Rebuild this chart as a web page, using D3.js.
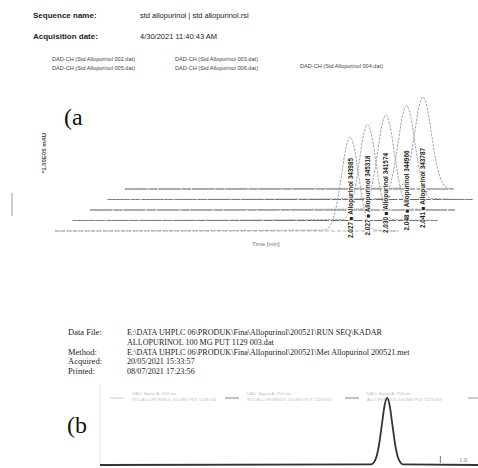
<!DOCTYPE html>
<html>
<head>
<meta charset="utf-8">
<script src="https://cdn.jsdelivr.net/npm/d3@7"></script>
<style>
body { margin: 0; background: #fff; }
svg { display: block; }
</style>
</head>
<body>
<div id="chart"></div>
<script>
// ---- values ----

// header of panel (a)
const headerLabels = ["Sequence name:", "Acquisition date:"];
const headerValues = ["std allopurinol | std allopurinol.rsl", "4/30/2021 11:40:43 AM"];
const legendFiles = [
    "DAD-CH (Std Allopurinol 002.dat)",
    "DAD-CH (Std Allopurinol 005.dat)",
    "DAD-CH (Std Allopurinol 003.dat)",
    "DAD-CH (Std Allopurinol 006.dat)",
    "DAD-CH (Std Allopurinol 004.dat)"
];

// overlay traces of panel (a), front to back
const peakTimes = [2.021, 2.021, 2.027, 2.048, 2.041];      // min
const peakHeights = [0.94, 0.96, 0.95, 0.94, 0.92];         // *1.00E05 mAU
const traceEnds = [2.35, 2.5, 2.5, 2.5, 2.25];              // min
const peakRT = ["2.027", "2.027", "2.030", "2.048", "2.041"];
const peakAreas = ["343985", "345318", "341574", "344966", "343787"];

// peak outline (offset in peak widths, fraction of height)
const shapeOffsets = [-3, -2.5, -2, -1.5, -1, -0.5, 0, 0.5, 1, 1.5, 2, 2.5, 3];
const shapeLevels = [0.01, 0.04, 0.13, 0.32, 0.6, 0.88, 1, 0.88, 0.6, 0.32, 0.13, 0.04, 0.01];

// info block of panel (b)
const infoLabels = ["Data File:", "", "Method:", "Acquired:", "Printed:"];
const infoValues = [
    "E:\\DATA UHPLC 06\\PRODUK\\Fina\\Allopurinol\\200521\\RUN SEQ\\KADAR",
    "ALLOPURINOL 100 MG PUT 1129 003.dat",
    "E:\\DATA UHPLC 06\\PRODUK\\Fina\\Allopurinol\\200521\\Met Allopurinol 200521.met",
    "20/05/2021 15:33:57",
    "08/07/2021 17:23:56"
];
const sampleLegendTop = ["DAD: Signal A, 254 nm", "DAD: Signal A, 254 nm", "DAD: Signal A, 254 nm"];
const sampleLegendBottom = ["STD ALLOPURINOL 100 MG PUT 1129 001", "STD ALLOPURINOL 100 MG PUT 1129 002", "ALLOPURINOL 100 MG PUT 1129 003"];

// sample chromatogram of panel (b)
const samplePeakTime = 0.793;   // min
const samplePeakHeight = 0.96;
const sampleTickTimes = [0.94];
const sampleTickLabels = ["1.0"];

// ---- drawing ----
const width = 478, height = 468;

const svg = d3.select("#chart").append("svg")
    .attr("width", width)
    .attr("height", height);

const sans = "Liberation Sans, Arial, sans-serif";
const serif = "Liberation Serif, Times New Roman, serif";

// header text
svg.selectAll(".head-label")
    .data(headerLabels)
    .join("text")
    .attr("class", "head-label")
    .attr("x", 33)
    .attr("y", (d, i) => 18 + i * 21)
    .attr("font-family", sans)
    .attr("font-size", 8)
    .attr("font-weight", "bold")
    .attr("fill", "#222")
    .text(d => d);

svg.selectAll(".head-value")
    .data(headerValues)
    .join("text")
    .attr("class", "head-value")
    .attr("x", 140)
    .attr("y", (d, i) => 18 + i * 21)
    .attr("font-family", sans)
    .attr("font-size", 7.5)
    .attr("fill", "#222")
    .text(d => d);

// legend of file names
const legendPos = [[52, 61], [52, 70], [175, 61], [175, 70], [300, 68]];
svg.selectAll(".file-legend")
    .data(legendFiles)
    .join("text")
    .attr("class", "file-legend")
    .attr("x", (d, i) => legendPos[i][0])
    .attr("y", (d, i) => legendPos[i][1])
    .attr("font-family", sans)
    .attr("font-size", 5.6)
    .attr("fill", "#444")
    .text(d => d);

// panel letters
svg.append("text")
    .attr("x", 64).attr("y", 125)
    .attr("font-family", serif)
    .attr("font-size", 24)
    .attr("fill", "#111")
    .text("(a");

svg.append("text")
    .attr("x", 67).attr("y", 433)
    .attr("font-family", serif)
    .attr("font-size", 24)
    .attr("fill", "#111")
    .text("(b");

// ---- panel (a): stacked overlay ----
const xA = d3.scaleLinear().domain([0, 2.5]).range([0, 365]);
const yA = d3.scaleLinear().domain([0, 1]).range([0, -100]);
const peakWidthA = 0.058; // min

const stepX = 17.5, stepY = -10.5, originX = 55, originY = 231;

const traces = peakTimes.map((t, i) => {
    const pts = [[0, 0]];
    shapeOffsets.forEach((o, k) => pts.push([t + o * peakWidthA, shapeLevels[k] * peakHeights[i]]));
    pts.push([traceEnds[i], 0]);
    return { i: i, pts: pts, end: traceEnds[i] };
});

const lineA = d3.line()
    .x(d => xA(d[0]))
    .y(d => yA(d[1]))
    .curve(d3.curveMonotoneX);

const traceGroups = svg.append("g")
    .attr("class", "traces")
    .selectAll("g")
    .data(traces.slice().reverse())
    .join("g")
    .attr("transform", d => `translate(${originX + stepX * d.i},${originY + stepY * d.i})`);

// baseline stroke (scan makes it mottled)
traceGroups.append("line")
    .attr("x1", xA(0))
    .attr("x2", d => xA(d.end))
    .attr("y1", yA(0))
    .attr("y2", yA(0))
    .attr("stroke", d => d.i === 0 ? "#b5b5b5" : "#6a6a6a")
    .attr("stroke-width", 1.1)
    .attr("stroke-dasharray", d => d.i === 0 ? "4,2" : "22,1.5,9,1");

// peak outline
traceGroups.append("path")
    .attr("d", d => lineA(d.pts))
    .attr("fill", "none")
    .attr("stroke", "#999")
    .attr("stroke-width", 0.9)
    .attr("stroke-dasharray", "2.5,1.2");

// peak labels
svg.append("g")
    .selectAll("text")
    .data(traces)
    .join("text")
    .attr("transform", d => `translate(${originX + stepX * d.i + xA(peakTimes[d.i]) + 2.5},${238 - 2.5 * d.i}) rotate(-90)`)
    .attr("font-family", sans)
    .attr("font-size", 6.4)
    .attr("font-weight", "bold")
    .attr("fill", "#222")
    .attr("stroke", "#fff")
    .attr("stroke-width", 1.5)
    .attr("paint-order", "stroke")
    .text(d => `${peakRT[d.i]} \u25A0 Allopurinol ${peakAreas[d.i]}`);

// axis captions
svg.append("text")
    .attr("transform", "translate(46,153) rotate(-90)")
    .attr("text-anchor", "middle")
    .attr("font-family", sans)
    .attr("font-size", 6)
    .attr("font-weight", "bold")
    .attr("fill", "#444")
    .text("*1.00E05 mAU");

svg.append("text")
    .attr("x", 252).attr("y", 246)
    .attr("font-family", sans)
    .attr("font-size", 6)
    .attr("fill", "#777")
    .text("Time [min]");

// stray margin mark
svg.append("line")
    .attr("x1", 12).attr("x2", 12)
    .attr("y1", 193).attr("y2", 216)
    .attr("stroke", "#999")
    .attr("stroke-width", 1);

// ---- panel (b): info block ----
svg.selectAll(".info-label")
    .data(infoLabels)
    .join("text")
    .attr("class", "info-label")
    .attr("x", 68)
    .attr("y", (d, i) => 335 + i * 9.8)
    .attr("font-family", serif)
    .attr("font-size", 8.5)
    .attr("fill", "#222")
    .text(d => d);

svg.selectAll(".info-value")
    .data(infoValues)
    .join("text")
    .attr("class", "info-value")
    .attr("x", 127)
    .attr("y", (d, i) => 335 + i * 9.8)
    .attr("font-family", serif)
    .attr("font-size", 8.1)
    .attr("fill", "#222")
    .text(d => d);

// faint sample legend
const sampleLegendX = [132, 247, 367];
const legendItems = svg.append("g")
    .selectAll("g")
    .data(sampleLegendTop)
    .join("g")
    .attr("transform", (d, i) => `translate(${sampleLegendX[i]},0)`);

legendItems.append("line")
    .attr("x1", -22).attr("x2", -8)
    .attr("y1", 398).attr("y2", 398)
    .attr("stroke", (d, i) => i === 0 ? "#ccc" : "#888")
    .attr("stroke-width", 1);

legendItems.append("text")
    .attr("y", 395)
    .attr("font-family", sans)
    .attr("font-size", 4.3)
    .attr("fill", "#bbb")
    .text(d => d);

legendItems.append("text")
    .attr("y", 400.5)
    .attr("font-family", sans)
    .attr("font-size", 4.3)
    .attr("fill", "#bbb")
    .text((d, i) => sampleLegendBottom[i]);

svg.append("line")
    .attr("x1", 468).attr("x2", 478)
    .attr("y1", 398).attr("y2", 398)
    .attr("stroke", "#999");

// sample chromatogram
const xB = d3.scaleLinear().domain([0, 1.044]).range([100, 478]);
const yB = d3.scaleLinear().domain([0, 1]).range([465, 395]);
const peakWidthB = 0.0145;

const samplePts = [[0, 0]];
shapeOffsets.forEach((o, k) => samplePts.push([samplePeakTime + o * peakWidthB, shapeLevels[k] * samplePeakHeight]));
samplePts.push([1.044, 0]);

svg.append("line")
    .attr("x1", xB(0)).attr("x2", xB(0))
    .attr("y1", 384).attr("y2", yB(0))
    .attr("stroke", "#e6e6e6");

svg.append("path")
    .attr("d", d3.line().x(d => xB(d[0])).y(d => yB(d[1])).curve(d3.curveMonotoneX)(samplePts))
    .attr("fill", "none")
    .attr("stroke", "#333")
    .attr("stroke-width", 1.8);

svg.selectAll(".b-tick")
    .data(sampleTickTimes)
    .join("line")
    .attr("class", "b-tick")
    .attr("x1", d => xB(d)).attr("x2", d => xB(d))
    .attr("y1", 456).attr("y2", 463)
    .attr("stroke", "#777");

svg.selectAll(".b-tick-label")
    .data(sampleTickLabels)
    .join("text")
    .attr("class", "b-tick-label")
    .attr("x", 459).attr("y", 462)
    .attr("font-family", serif)
    .attr("font-size", 6.5)
    .attr("fill", "#888")
    .text(d => d);
</script>
</body>
</html>
